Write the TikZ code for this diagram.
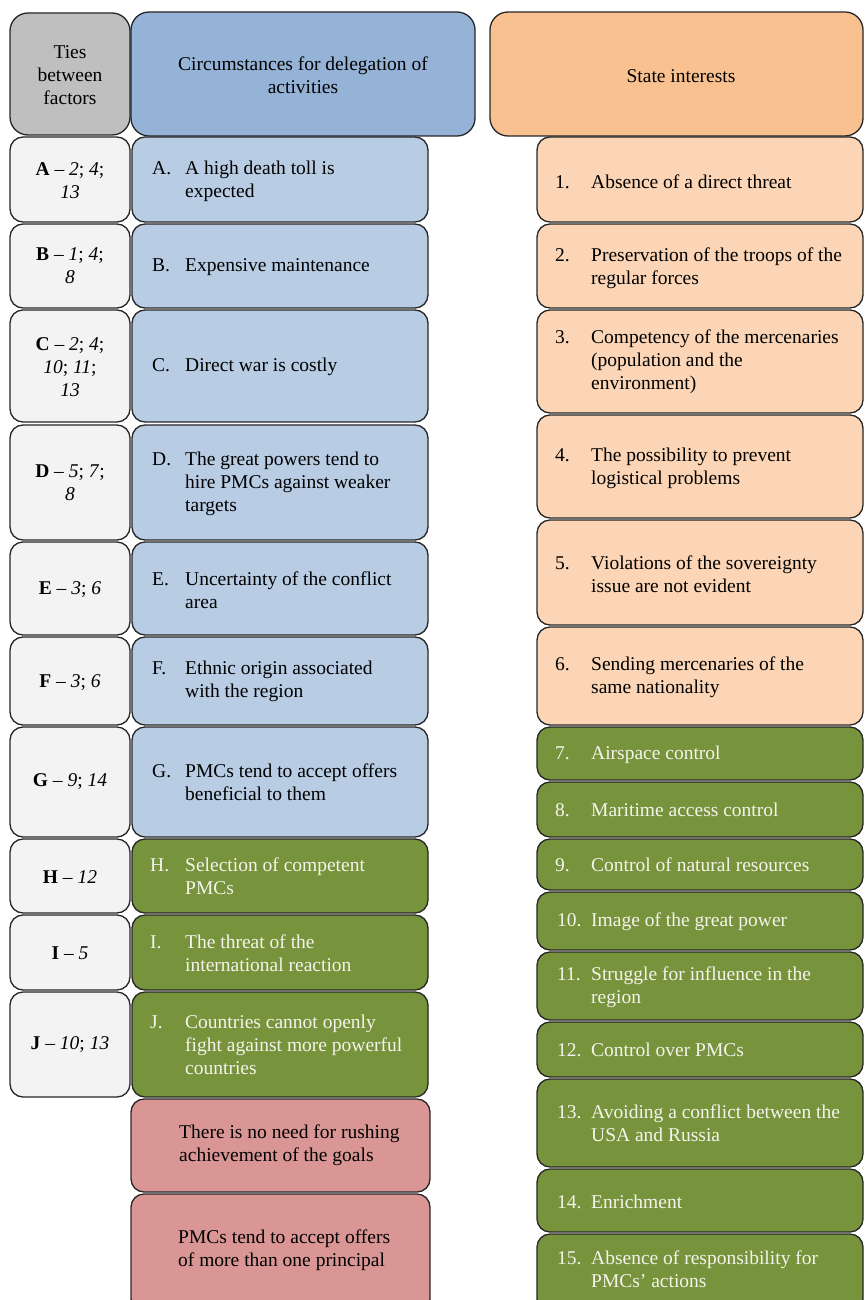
\documentclass[tikz,border=0pt]{standalone}
\usepackage{fontspec}
\setmainfont{Liberation Serif}
\definecolor{linec}{HTML}{262626}
\definecolor{cGray}{HTML}{BFBFBF}
\definecolor{cTie}{HTML}{F3F3F3}
\definecolor{cBlueH}{HTML}{95B3D7}
\definecolor{cBlue}{HTML}{B8CCE4}
\definecolor{cPeachH}{HTML}{F9C18F}
\definecolor{cPeach}{HTML}{FBD5B5}
\definecolor{cGreen}{HTML}{77933C}
\definecolor{cPink}{HTML}{D99694}
\definecolor{cWhiteTxt}{HTML}{F4F4EC}
\newcommand\myfs{\fontsize{19.5}{23}\selectfont}
\newcommand\mylblA[1]{\makebox[33pt][l]{#1}}
\newcommand\myindA{\hspace*{33pt}}
\newcommand\mylblB[1]{\makebox[36pt][l]{#1}}
\newcommand\myindB{\hspace*{36pt}}
% box: [opts] x1 y1 x2 y2 name fill
\newcommand\mkbox[7][]{\node[box,#1,fill=#7,minimum width={(#4-#2)*1pt},minimum height={(#5-#3)*1pt}] (#6) at ({(#2+#4)/2},{(#3+#5)/2}) {};}
\begin{document}
\begin{tikzpicture}[x=1pt,y=-1pt,
  box/.style={draw=linec,line width=1.3pt,rounded corners=13pt,inner sep=0pt,outer sep=0pt},
  hdr/.style={rounded corners=18pt},
  txt/.style={inner sep=0pt,align=left,anchor=west,font=\myfs},
  ctxt/.style={inner sep=0pt,align=center,font=\myfs},
  wtxt/.style={txt,text=cWhiteTxt}]
\useasboundingbox (0,0) rectangle (864,1300);
\clip (0,0) rectangle (864,1300);

% ---------- headers ----------
\mkbox[hdr]{10}{13}{130}{135}{hTies}{cGray}
\mkbox[hdr]{131}{12}{475}{136}{hCirc}{cBlueH}
\mkbox[hdr]{490}{12}{863}{136}{hState}{cPeachH}
\node[ctxt] (tTies) at (70,75) {Ties\\between\\factors};
\node[ctxt] (tCirc) at (303,75) {Circumstances for delegation of\\activities};
\node[ctxt] (tState) at (681,76) {State interests};

% ---------- ties column ----------
\mkbox{10}{137}{130}{222}{kA}{cTie}
\mkbox{10}{224}{130}{308}{kB}{cTie}
\mkbox{10}{310}{130}{422}{kC}{cTie}
\mkbox{10}{425}{130}{540}{kD}{cTie}
\mkbox{10}{542}{130}{635}{kE}{cTie}
\mkbox{10}{637}{130}{725}{kF}{cTie}
\mkbox{10}{727}{130}{837}{kG}{cTie}
\mkbox{10}{839}{130}{913}{kH}{cTie}
\mkbox{10}{915}{130}{990}{kI}{cTie}
\mkbox{10}{992}{130}{1097}{kJ}{cTie}
\node[ctxt] (tkA) at (70,181) {\textbf{A} -- \textit{2}; \textit{4};\\\textit{13}};
\node[ctxt] (tkB) at (70,266) {\textbf{B} -- \textit{1}; \textit{4};\\\textit{8}};
\node[ctxt] (tkC) at (70,367) {\textbf{C} -- \textit{2}; \textit{4};\\\textit{10}; \textit{11};\\\textit{13}};
\node[ctxt] (tkD) at (70,483) {\textbf{D} -- \textit{5}; \textit{7};\\\textit{8}};
\node[ctxt] (tkE) at (70,590) {\textbf{E} -- \textit{3}; \textit{6}};
\node[ctxt] (tkF) at (70,683) {\textbf{F} -- \textit{3}; \textit{6}};
\node[ctxt] (tkG) at (70,782) {\textbf{G} -- \textit{9}; \textit{14}};
\node[ctxt] (tkH) at (70,877) {\textbf{H} -- \textit{12}};
\node[ctxt] (tkI) at (70,953) {\textbf{I} -- \textit{5}};
\node[ctxt] (tkJ) at (70,1045) {\textbf{J} -- \textit{10}; \textit{13}};

% ---------- circumstances column ----------
\mkbox{132}{137}{428}{222}{cA}{cBlue}
\mkbox{132}{224}{428}{308}{cB}{cBlue}
\mkbox{132}{310}{428}{422}{cC}{cBlue}
\mkbox{132}{425}{428}{540}{cD}{cBlue}
\mkbox{132}{542}{428}{635}{cE}{cBlue}
\mkbox{132}{637}{428}{725}{cF}{cBlue}
\mkbox{132}{727}{428}{837}{cG}{cBlue}
\mkbox{132}{839}{428}{913}{cH}{cGreen}
\mkbox{132}{915}{428}{990}{cI}{cGreen}
\mkbox{132}{992}{428}{1097}{cJ}{cGreen}
\mkbox{131}{1099}{430}{1192}{cP1}{cPink}
\mkbox{131}{1194}{430}{1312}{cP2}{cPink}
\node[txt] (tcA) at (152,181) {\mylblA{A.}A high death toll is\\\myindA expected};
\node[txt] (tcB) at (152,267) {\mylblA{B.}Expensive maintenance};
\node[txt] (tcC) at (152,367) {\mylblA{C.}Direct war is costly};
\node[txt] (tcD) at (152,484) {\mylblA{D.}The great powers tend to\\\myindA hire PMCs against weaker\\\myindA targets};
\node[txt] (tcE) at (152,590) {\mylblA{E.}Uncertainty of the conflict\\\myindA area};
\node[txt] (tcF) at (152,681) {\mylblA{F.}Ethnic origin associated\\\myindA with the region};
\node[txt] (tcG) at (152,782) {\mylblA{G.}PMCs tend to accept offers\\\myindA beneficial to them};
\node[wtxt] (tcH) at (150,876) {\makebox[35pt][l]{H.}Selection of competent\\\hspace*{35pt}PMCs};
\node[wtxt] (tcI) at (150,953) {\makebox[35pt][l]{I.}The threat of the\\\hspace*{35pt}international reaction};
\node[wtxt] (tcJ) at (150,1045) {\makebox[35pt][l]{J.}Countries cannot openly\\\hspace*{35pt}fight against more powerful\\\hspace*{35pt}countries};
\node[txt] (tcP1) at (179,1145) {There is no need for rushing\\achievement of the goals};
\node[txt] (tcP2) at (178,1250) {PMCs tend to accept offers\\of more than one principal};

% ---------- state interests column ----------
\mkbox{537}{137}{863}{222}{s1}{cPeach}
\mkbox{537}{224}{863}{308}{s2}{cPeach}
\mkbox{537}{310}{863}{413}{s3}{cPeach}
\mkbox{537}{415}{863}{518}{s4}{cPeach}
\mkbox{537}{520}{863}{625}{s5}{cPeach}
\mkbox{537}{627}{863}{725}{s6}{cPeach}
\mkbox{537}{727}{863}{780}{s7}{cGreen}
\mkbox{537}{782}{863}{837}{s8}{cGreen}
\mkbox{537}{839}{863}{890}{s9}{cGreen}
\mkbox{537}{892}{863}{950}{s10}{cGreen}
\mkbox{537}{952}{863}{1020}{s11}{cGreen}
\mkbox{537}{1022}{863}{1077}{s12}{cGreen}
\mkbox{537}{1079}{863}{1167}{s13}{cGreen}
\mkbox{537}{1169}{863}{1232}{s14}{cGreen}
\mkbox{537}{1234}{863}{1312}{s15}{cGreen}
\node[txt] (ts1) at (555,182) {\mylblB{1.}Absence of a direct threat};
\node[txt] (ts2) at (555,268) {\mylblB{2.}Preservation of the troops of the\\\myindB regular forces};
\node[txt] (ts3) at (555,362) {\mylblB{3.}Competency of the mercenaries\\\myindB (population and the\\\myindB environment)};
\node[txt] (ts4) at (555,468) {\mylblB{4.}The possibility to prevent\\\myindB logistical problems};
\node[txt] (ts5) at (555,574) {\mylblB{5.}Violations of the sovereignty\\\myindB issue are not evident};
\node[txt] (ts6) at (555,677) {\mylblB{6.}Sending mercenaries of the\\\myindB same nationality};
\node[wtxt] (ts7) at (555,755) {\mylblB{7.}Airspace control};
\node[wtxt] (ts8) at (555,810) {\mylblB{8.}Maritime access control};
\node[wtxt] (ts9) at (555,865) {\mylblB{9.}Control of natural resources};
\node[wtxt] (ts10) at (557,922) {\makebox[34pt][l]{10.}Image of the great power};
\node[wtxt] (ts11) at (557,987) {\makebox[34pt][l]{11.}Struggle for influence in the\\\hspace*{34pt}region};
\node[wtxt] (ts12) at (557,1050) {\makebox[34pt][l]{12.}Control over PMCs};
\node[wtxt] (ts13) at (557,1123) {\makebox[34pt][l]{13.}Avoiding a conflict between the\\\hspace*{34pt}USA and Russia};
\node[wtxt] (ts14) at (557,1202) {\makebox[34pt][l]{14.}Enrichment};
\node[wtxt] (ts15) at (557,1269) {\makebox[34pt][l]{15.}Absence of responsibility for\\\hspace*{34pt}PMCs' actions};
\end{tikzpicture}
\end{document}
